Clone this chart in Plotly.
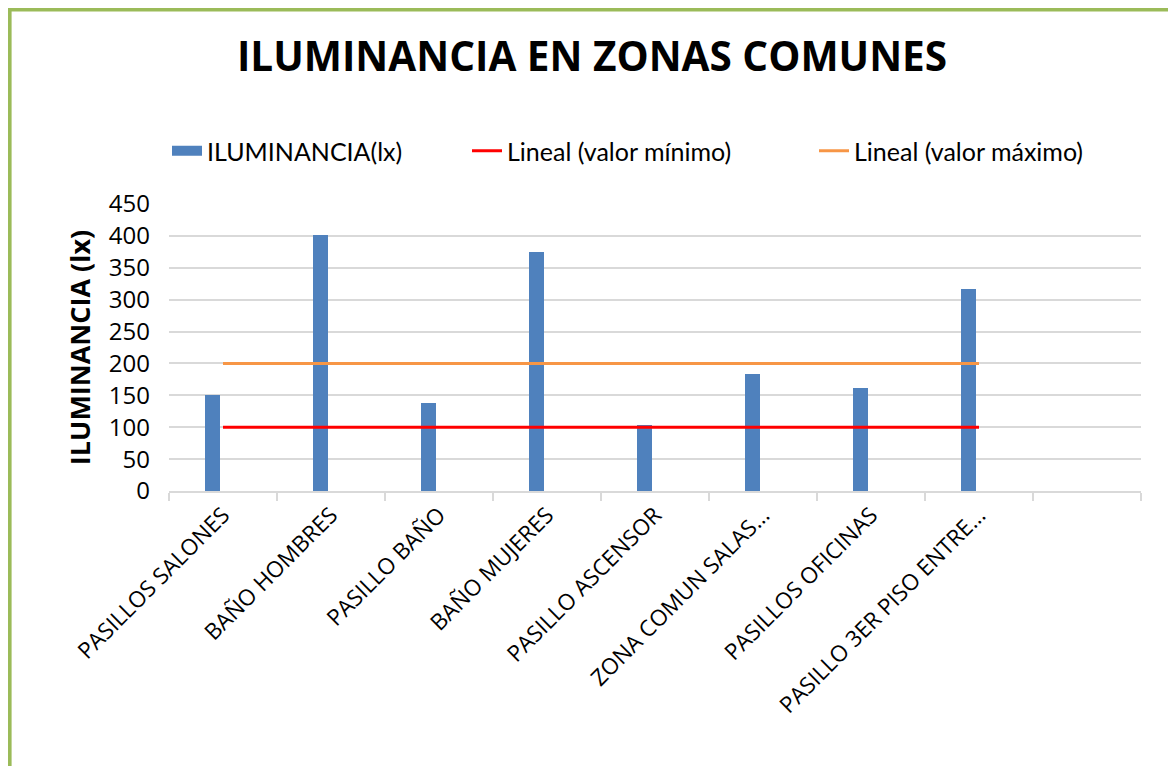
import plotly.graph_objects as go

categories = ["PASILLOS SALONES", "BAÑO HOMBRES", "PASILLO BAÑO", "BAÑO MUJERES",
              "PASILLO ASCENSOR", "ZONA COMUN SALAS...", "PASILLOS OFICINAS",
              "PASILLO 3ER PISO ENTRE..."]
iluminancia = [151, 402, 138, 375, 104, 184, 162, 317]
valor_minimo = [100, 100, 100, 100, 100, 100, 100, 100]
valor_maximo = [200, 200, 200, 200, 200, 200, 200, 200]
y_ticks = [0, 50, 100, 150, 200, 250, 300, 350, 400, 450]

x_pos = list(range(len(categories)))

OFF = 8  # page body margin
W, H = 1176 - OFF, 766 - OFF
L, R, T, B = 169 - OFF, 1141 - OFF, 204 - OFF, 491 - OFF


def px(x):
    return (x - OFF - L) / (R - L)


def py(y):
    return (B - (y - OFF)) / (B - T)


def fx(x):  # figure-pixel -> paper
    return (x - L) / (R - L)


def fy(y):
    return (B - y) / (B - T)


fig = go.Figure()
fig.add_trace(go.Bar(x=x_pos, y=iluminancia, name="ILUMINANCIA(lx)",
                     marker=dict(color="#4f81bd", line=dict(width=0)),
                     width=0.14, offset=-0.17, showlegend=False))
# legend entry for the bar series (wide rectangle like the original)
fig.add_trace(go.Scatter(x=[None], y=[None], mode="lines", name="ILUMINANCIA(lx)",
                         line=dict(color="#4f81bd", width=18), legend="legend"))
fig.add_trace(go.Scatter(x=x_pos, y=valor_minimo, mode="lines",
                         name="Lineal (valor mínimo)", legend="legend2",
                         line=dict(color="#ff0000", width=3)))
fig.add_trace(go.Scatter(x=x_pos, y=valor_maximo, mode="lines",
                         name="Lineal (valor máximo)", legend="legend3",
                         line=dict(color="#f79646", width=3)))

leg_common = dict(orientation="h", xanchor="left", yanchor="middle",
                  y=py(151), font=dict(size=25, family="Lato", color="black"),
                  bgcolor="rgba(0,0,0,0)", borderwidth=0)

fig.update_layout(
    width=W, height=H,
    margin=dict(l=L, r=W - R, t=T, b=H - B, autoexpand=False),
    paper_bgcolor="white", plot_bgcolor="white",
    font=dict(family="Open Sans", color="black"),
    title=dict(text="<b>ILUMINANCIA EN ZONAS COMUNES</b>",
               x=(592 - OFF) / W, xanchor="center",
               y=1 - (57 - OFF) / H, yanchor="middle",
               font=dict(size=40.5, family="Open Sans", color="black")),
    showlegend=True,
    legend=dict(x=px(167), **leg_common),
    legend2=dict(x=px(467), **leg_common),
    legend3=dict(x=px(814), **leg_common),
    bargap=0,
    xaxis=dict(range=[-0.5, 8.5], tickmode="array", tickvals=x_pos,
               ticktext=categories, tickangle=-45, ticks="",
               tickfont=dict(size=22.5, family="Open Sans", color="black"),
               showgrid=False, zeroline=False,
               showline=True, linecolor="#d9d9d9", linewidth=2,
               minor=dict(tickmode="array",
                          tickvals=[i - 0.5 for i in range(10)],
                          ticks="outside", ticklen=8, tickwidth=2,
                          tickcolor="#d9d9d9", showgrid=False)),
    yaxis=dict(range=[0, 450], tickmode="array", tickvals=y_ticks,
               tickfont=dict(size=24, family="Open Sans", color="black"),
               ticklabelstandoff=18,
               showgrid=True, gridcolor="#d9d9d9", gridwidth=1.5,
               zeroline=False, showline=False, ticks="", ticklen=0,
               title=dict(text="<b>ILUMINANCIA (lx)</b>", standoff=10,
                          font=dict(size=27, family="Open Sans", color="black"))),
)

# outer green frame of the chart area
fig.add_shape(type="rect", xref="paper", yref="paper",
              x0=fx(1.8), x1=fx(1167.5), y0=fy(800), y1=fy(1.8),
              line=dict(color="#9bbb59", width=3.6), fillcolor="rgba(0,0,0,0)",
              layer="below")

fig.write_html("out.html")
